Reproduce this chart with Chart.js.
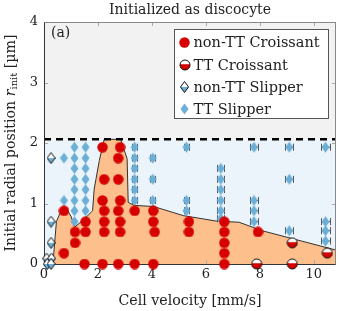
<!DOCTYPE html>
<html lang="en">
<head>
  <meta charset="utf-8" />
  <title>Initialized as discocyte</title>
  <script src="https://cdn.jsdelivr.net/npm/chart.js"></script>
  <style>
    body { margin: 0; background: #fff; }
    #wrap { width: 341px; height: 311px; }
  </style>
</head>
<body>
  <div id="wrap"><canvas id="myChart"></canvas></div>

  <script>
    // values
    const nonTTCroissantX = [0.74, 0.74, 1.15, 1.15, 1.54, 1.54, 1.50,
      2.17, 2.23, 2.17, 2.23, 2.23, 2.23, 2.17,
      2.82, 2.75, 2.75, 2.82, 2.75, 2.82, 2.82, 2.75,
      3.36, 3.36, 4.05, 4.05, 4.10, 4.05, 5.37, 5.37,
      6.68, 6.68, 6.68, 6.68, 6.68, 7.93];
    const nonTTCroissantY = [0.88, 0.18, 0.53, 0.35, 0.70, 0.53, 0,
      1.93, 1.40, 1.05, 0.88, 0.70, 0.53, 0,
      1.93, 1.75, 1.40, 1.05, 0.88, 0.70, 0.53, 0,
      0.88, 0, 0.88, 0.70, 0.53, 0, 0.70, 0.53,
      0.70, 0.53, 0.35, 0.18, 0, 0.53];

    const ttCroissantX = [7.88, 9.20, 9.20, 10.50];
    const ttCroissantY = [0, 0.35, 0, 0.18];

    const nonTTSlipperX = [0.26, 0.26, 0.26, 0.10, 0.28, 0.12, 0.26];
    const nonTTSlipperY = [1.75, 0.70, 0.35, 0.09, 0.09, 0, 0];

    const ttSlipperX = [0.74, 0.74,
      1.13, 1.13, 1.13, 1.13, 1.13, 1.13, 1.13, 1.13,
      1.54, 1.54, 1.54, 1.54, 1.54, 1.54, 1.54,
      3.36, 3.36, 3.36, 3.36, 3.36, 3.36,
      4.03, 4.03, 4.03,
      5.28, 5.28, 5.28,
      6.55, 6.55, 6.55, 6.55, 6.55, 6.55,
      7.78, 7.78, 7.78, 7.78,
      9.09, 9.09, 9.09,
      10.43, 10.43, 10.43, 10.43];
    const ttSlipperY = [1.75, 1.05,
      1.93, 1.75, 1.58, 1.40, 1.23, 1.05, 0.88, 0.70,
      1.93, 1.75, 1.58, 1.40, 1.23, 1.05, 0.88,
      1.93, 1.75, 1.58, 1.40, 1.23, 1.05,
      1.75, 1.40, 1.05,
      1.93, 1.05, 0.88,
      1.58, 1.40, 1.23, 1.05, 0.88, 0.75,
      1.93, 1.05, 0.88, 0.70,
      1.93, 1.40, 0.55,
      1.93, 0.70, 0.55, 0.38];
    const ttSlipperErr = [0, 0,
      0, 0, 0, 0, 0, 0, 0, 0,
      0, 0, 0, 0, 0, 0, 0,
      0.10, 0.10, 0.10, 0.10, 0.10, 0.10,
      0.09, 0.09, 0.09,
      0.11, 0.11, 0.11,
      0.13, 0.13, 0.13, 0.13, 0.13, 0.13,
      0.14, 0.14, 0.14, 0.14,
      0.15, 0.15, 0.15,
      0.15, 0.15, 0.15, 0.15];

    // croissant / slipper boundary (orange region)
    const boundaryX = [0.33, 0.46, 0.61, 0.83, 1.01, 1.13, 1.44, 1.80, 1.86, 2.05, 2.23,
      2.84, 3.08, 3.12, 3.33, 4.06, 5.16, 6.37, 7.23, 8.08, 10.82];
    const boundaryY = [0, 0.70, 0.86, 0.92, 0.78, 0.61, 0.72, 0.88, 1.24, 1.71, 2.06,
      2.06, 1.74, 1.02, 0.97, 0.95, 0.80, 0.71, 0.69, 0.55, 0.23];

    const discocyteLimit = 2.06;
    const xTicks = [0, 2, 4, 6, 8, 10];
    const yTicks = [0, 1, 2, 3, 4];

    const serif = "'DejaVu Serif', serif";
    const red = '#d60000';
    const blue = '#6baed6';

    const pts = (xs, ys) => xs.map((x, i) => ({ x: x, y: ys[i] }));

    const makeMarker = (w, h, draw) => {
      const c = document.createElement('canvas');
      c.width = w;
      c.height = h;
      draw(c.getContext('2d'), w, h);
      return c;
    };

    const halfCircle = makeMarker(12, 12, (ctx) => {
      ctx.fillStyle = '#fff';
      ctx.beginPath(); ctx.arc(6, 6, 5, 0, Math.PI * 2); ctx.fill();
      ctx.fillStyle = red;
      ctx.beginPath(); ctx.arc(6, 6, 5, -0.15, Math.PI + 0.15); ctx.fill();
      ctx.strokeStyle = '#111'; ctx.lineWidth = 1;
      ctx.beginPath(); ctx.arc(6, 6, 5, 0, Math.PI * 2); ctx.stroke();
    });

    const diamondPath = (ctx, w, h) => {
      ctx.beginPath();
      ctx.moveTo(w / 2, 0.5); ctx.lineTo(w - 0.5, h / 2);
      ctx.lineTo(w / 2, h - 0.5); ctx.lineTo(0.5, h / 2);
      ctx.closePath();
    };

    const openDiamond = makeMarker(9, 12, (ctx, w, h) => {
      diamondPath(ctx, w, h);
      ctx.fillStyle = '#fff'; ctx.fill();
      ctx.save(); ctx.clip();
      ctx.fillStyle = blue; ctx.fillRect(0, h / 2, w, h / 2);
      ctx.restore();
      diamondPath(ctx, w, h);
      ctx.strokeStyle = '#111'; ctx.lineWidth = 1; ctx.stroke();
    });

    const fullDiamond = makeMarker(9, 12, (ctx, w, h) => {
      diamondPath(ctx, w, h);
      ctx.fillStyle = blue; ctx.fill();
    });

    const redDot = makeMarker(11, 11, (ctx) => {
      ctx.fillStyle = red;
      ctx.beginPath(); ctx.arc(5.5, 5.5, 5.2, 0, Math.PI * 2); ctx.fill();
    });

    // backgrounds, inner ticks, frame, legend, labels
    const decorations = {
      id: 'decorations',
      beforeDatasetsDraw(chart) {
        const { ctx, chartArea: a, scales: { y } } = chart;
        const yl = y.getPixelForValue(discocyteLimit);
        ctx.save();
        ctx.fillStyle = '#f2f2f2';
        ctx.fillRect(a.left, a.top, a.right - a.left, yl - a.top);
        ctx.fillStyle = '#ebf4fa';
        ctx.fillRect(a.left, yl, a.right - a.left, a.bottom - yl);
        ctx.restore();
      },
      beforeDatasetDraw(chart, args) {
        const ds = chart.data.datasets[args.index];
        if (ds.label !== 'TT Slipper') return;
        const { ctx, scales: { x, y } } = chart;
        ctx.save();
        ctx.strokeStyle = '#555';
        ctx.lineWidth = 1;
        ds.data.forEach((p) => {
          if (!p.err) return;
          const x0 = Math.round(x.getPixelForValue(p.x - p.err)) + 0.5;
          const x1 = Math.round(x.getPixelForValue(p.x + p.err)) + 0.5;
          const py = y.getPixelForValue(p.y);
          ctx.beginPath();
          ctx.moveTo(x0, py); ctx.lineTo(x1, py);
          ctx.moveTo(x0, py - 3.5); ctx.lineTo(x0, py + 3.5);
          ctx.moveTo(x1, py - 3.5); ctx.lineTo(x1, py + 3.5);
          ctx.stroke();
        });
        ctx.restore();
      },
      afterDatasetDraw(chart, args) {
        if (chart.data.datasets[args.index].label !== 'threshold') return;
        const { ctx, chartArea: a, scales: { x, y } } = chart;
        ctx.save();
        ctx.strokeStyle = '#aaa';
        ctx.lineWidth = 1;
        ctx.beginPath();
        xTicks.forEach((v) => {
          const px = Math.round(x.getPixelForValue(v)) + 0.5;
          ctx.moveTo(px, a.bottom); ctx.lineTo(px, a.bottom - 4);
          ctx.moveTo(px, a.top); ctx.lineTo(px, a.top + 4);
        });
        yTicks.forEach((v) => {
          const py = Math.round(y.getPixelForValue(v)) + 0.5;
          ctx.moveTo(a.left, py); ctx.lineTo(a.left + 4, py);
          ctx.moveTo(a.right, py); ctx.lineTo(a.right - 4, py);
        });
        ctx.stroke();
        const l = Math.round(a.left) + 0.5, r = Math.round(a.right) - 0.5;
        const t = Math.round(a.top) + 0.5, b = Math.round(a.bottom) + 0.5;
        ctx.strokeStyle = '#888';
        ctx.beginPath();
        ctx.moveTo(l, t); ctx.lineTo(r, t); ctx.lineTo(r, b);
        ctx.stroke();
        ctx.strokeStyle = '#333';
        ctx.beginPath();
        ctx.moveTo(l, t); ctx.lineTo(l, b); ctx.lineTo(r, b);
        ctx.stroke();
        ctx.restore();
      },
      afterDraw(chart) {
        const { ctx, chartArea: a } = chart;
        ctx.save();
        ctx.fillStyle = '#222';
        ctx.textBaseline = 'middle';

        // title centred over the plot area
        ctx.font = `14px ${serif}`;
        ctx.textAlign = 'center';
        ctx.fillText('Initialized as discocyte', (a.left + a.right) / 2, 10);
        ctx.textAlign = 'left';

        ctx.fillText('(a)', a.left + 7, a.top + 11);

        // legend
        const items = ['non-TT Croissant', 'TT Croissant', 'non-TT Slipper', 'TT Slipper'];
        const w = 154, h = 89;
        const lx = Math.round(a.right - 8 - w) + 0.5, ly = Math.round(a.top + 7) + 0.5;
        ctx.fillStyle = '#fff';
        ctx.fillRect(lx, ly, w, h);
        ctx.strokeStyle = '#555';
        ctx.lineWidth = 1;
        ctx.strokeRect(lx, ly, w, h);
        ctx.font = `14.5px ${serif}`;
        items.forEach((label, i) => {
          const ds = chart.data.datasets.find((d) => d.label === label);
          const my = ly + 13 + i * 22.3;
          const img = ds.pointStyle;
          ctx.drawImage(img, Math.round(lx + 10 - img.width / 2), Math.round(my - img.height / 2));
          ctx.fillStyle = '#222';
          ctx.fillText(label, lx + 19, my + 1);
        });

        // y title with italic r and subscript
        const parts = [
          { t: 'Initial radial position ', f: `14.2px ${serif}`, dy: 0 },
          { t: 'r', f: `italic 14.2px ${serif}`, dy: 0 },
          { t: 'init', f: `10px ${serif}`, dy: 3 },
          { t: ' [µm]', f: `14.2px ${serif}`, dy: 0 },
        ];
        let total = 0;
        parts.forEach((p) => { ctx.font = p.f; p.w = ctx.measureText(p.t).width; total += p.w; });
        ctx.translate(11, (a.top + a.bottom) / 2);
        ctx.rotate(-Math.PI / 2);
        let cx = -total / 2;
        parts.forEach((p) => {
          ctx.font = p.f;
          ctx.fillText(p.t, cx, p.dy);
          cx += p.w;
        });
        ctx.restore();
      }
    };

    const config = {
      type: 'scatter',
      data: {
        datasets: [
          {
            label: 'boundary',
            data: pts(boundaryX, boundaryY),
            showLine: true,
            fill: 'origin',
            backgroundColor: '#fdbf8b',
            borderColor: '#333',
            borderWidth: 1,
            pointRadius: 0,
            order: 10,
          },
          {
            label: 'threshold',
            data: [{ x: 0, y: discocyteLimit }, { x: 10.82, y: discocyteLimit }],
            showLine: true,
            borderColor: '#000',
            borderWidth: 2.5,
            borderDash: [7, 5],
            pointRadius: 0,
            order: 9,
          },
          {
            label: 'TT Slipper',
            data: ttSlipperX.map((x, i) => ({ x: x, y: ttSlipperY[i], err: ttSlipperErr[i] })),
            pointStyle: fullDiamond,
            clip: false,
            order: 4,
          },
          {
            label: 'non-TT Slipper',
            data: pts(nonTTSlipperX, nonTTSlipperY),
            pointStyle: openDiamond,
            clip: false,
            order: 3,
          },
          {
            label: 'non-TT Croissant',
            data: pts(nonTTCroissantX, nonTTCroissantY),
            pointStyle: redDot,
            clip: false,
            order: 2,
          },
          {
            label: 'TT Croissant',
            data: pts(ttCroissantX, ttCroissantY),
            pointStyle: halfCircle,
            clip: false,
            order: 1,
          },
        ]
      },
      options: {
        responsive: true,
        maintainAspectRatio: false,
        animation: false,
        layout: { padding: { top: 22, right: 2 } },
        plugins: {
          legend: { display: false },
          tooltip: { enabled: false },
        },
        scales: {
          x: {
            type: 'linear',
            min: 0,
            max: 10.82,
            grid: { display: false, drawTicks: false },
            border: { display: false },
            ticks: {
              stepSize: 2,
              includeBounds: false,
              color: '#222',
              padding: 3,
              font: { family: serif, size: 13 },
            },
            title: {
              display: true,
              text: 'Cell velocity [mm/s]',
              color: '#222',
              font: { family: serif, size: 14.2 },
              padding: { top: 0, bottom: 1 },
            },
            afterFit: (s) => { s.height = 47; },
          },
          y: {
            min: 0,
            max: 4,
            grid: { display: false, drawTicks: false },
            border: { display: false },
            ticks: {
              stepSize: 1,
              color: '#222',
              padding: 6,
              font: { family: serif, size: 13 },
            },
            afterFit: (s) => { s.width = 44; },
          },
        },
      },
      plugins: [decorations],
    };

    var myChart = new Chart(document.getElementById('myChart'), config);
  </script>
</body>
</html>
